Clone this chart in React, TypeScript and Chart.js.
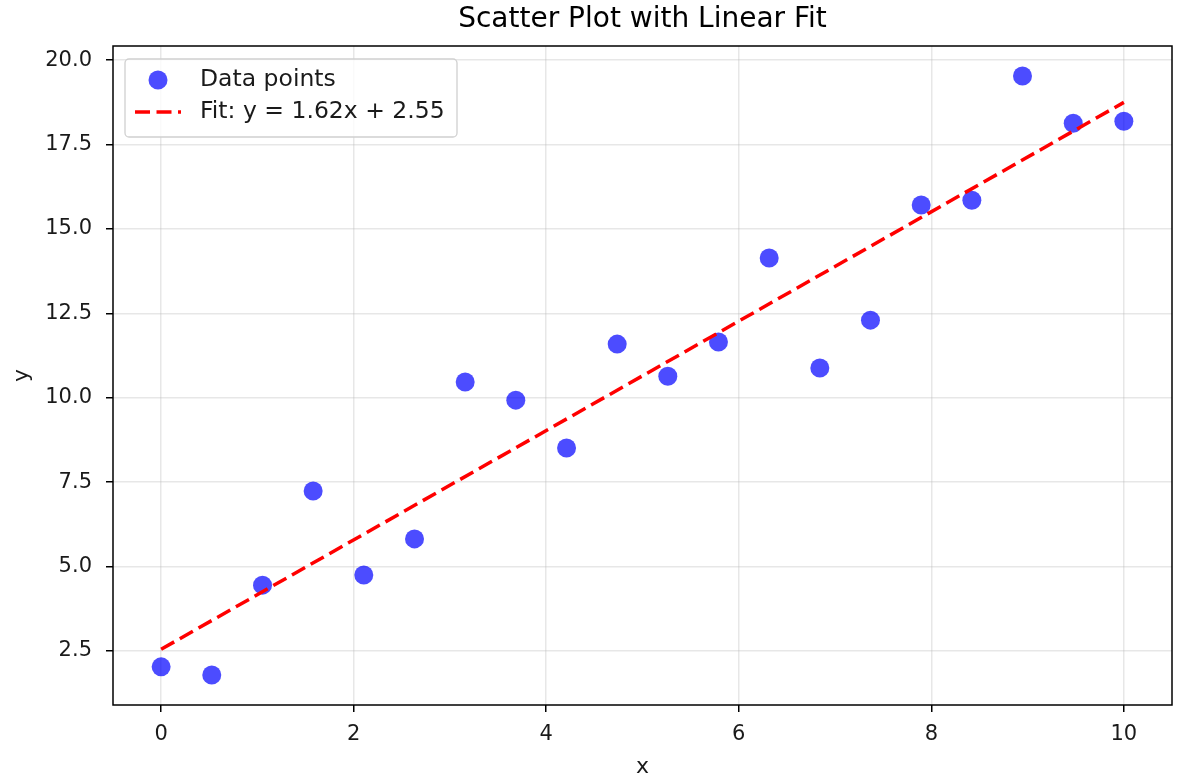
import React, { useEffect, useRef } from "react";
import { Chart, registerables } from "chart.js";

Chart.register(...registerables);

const pointX = [0, 0.526, 1.053, 1.579, 2.105, 2.632, 3.158, 3.684, 4.211, 4.737, 5.263, 5.789, 6.316, 6.842, 7.368, 7.895, 8.421, 8.947, 9.474, 10];
const pointY = [2.03, 1.79, 4.45, 7.24, 4.75, 5.82, 10.47, 9.93, 8.51, 11.59, 10.64, 11.65, 14.14, 10.88, 12.3, 15.71, 15.85, 19.53, 18.13, 18.19];
const fitX = [0, 10];
const fitY = [2.55, 18.75];
const xTicks = [0, 2, 4, 6, 8, 10];
const yTicks = [2.5, 5.0, 7.5, 10.0, 12.5, 15.0, 17.5, 20.0];
const legendLabels = ["Data points", "Fit: y = 1.62x + 2.55"];
const titleText = "Scatter Plot with Linear Fit";

const FONT = "'DejaVu Sans', sans-serif";
const POINT_COLOR = "rgba(0,0,255,0.7)";
const LINE_COLOR = "#ff0000";
const DASH = [15, 6.5];

const framePlugin = {
  id: "frameLegend",
  afterDraw(chart: any) {
    const ctx = chart.ctx as CanvasRenderingContext2D;
    const a = chart.chartArea;
    ctx.save();
    // spines
    ctx.strokeStyle = "#000";
    ctx.lineWidth = 1.5;
    ctx.strokeRect(a.left, a.top, a.right - a.left, a.bottom - a.top);

    // legend
    const lx = a.left + 12;
    const ly = a.top + 13;
    const w = 332;
    const h = 78;
    ctx.beginPath();
    (ctx as any).roundRect(lx, ly, w, h, 4);
    ctx.fillStyle = "rgba(255,255,255,0.8)";
    ctx.fill();
    ctx.strokeStyle = "#d0d0d0";
    ctx.lineWidth = 1.3;
    ctx.stroke();

    // marker
    ctx.beginPath();
    ctx.arc(lx + 33, ly + 21, 9.5, 0, Math.PI * 2);
    ctx.fillStyle = POINT_COLOR;
    ctx.fill();

    // dashed line sample
    ctx.beginPath();
    ctx.setLineDash(DASH);
    ctx.moveTo(lx + 10, ly + 53);
    ctx.lineTo(lx + 56, ly + 53);
    ctx.strokeStyle = LINE_COLOR;
    ctx.lineWidth = 3.5;
    ctx.stroke();
    ctx.setLineDash([]);

    ctx.fillStyle = "#1a1a1a";
    ctx.font = `23.5px ${FONT}`;
    ctx.textBaseline = "middle";
    ctx.textAlign = "left";
    ctx.fillText(legendLabels[0], lx + 75, ly + 21);
    ctx.fillText(legendLabels[1], lx + 75, ly + 53);
    ctx.restore();
  },
};

export default function App() {
  const ref = useRef<HTMLCanvasElement>(null);
  useEffect(() => {
    if (!ref.current) return;
    const chart = new Chart(ref.current, {
      type: "scatter",
      data: {
        datasets: [
          {
            type: "line",
            label: legendLabels[1],
            data: fitX.map((x, i) => ({ x, y: fitY[i] })),
            borderColor: LINE_COLOR,
            borderWidth: 3.5,
            borderDash: DASH,
            pointRadius: 0,
            fill: false,
            order: 0,
          } as any,
          {
            type: "scatter",
            label: legendLabels[0],
            data: pointX.map((x, i) => ({ x, y: pointY[i] })),
            backgroundColor: POINT_COLOR,
            borderWidth: 0,
            pointRadius: 9.5,
            order: 1,
          },
        ],
      },
      options: {
        responsive: false,
        animation: false,
        layout: { autoPadding: false, padding: { left: 0, right: 5, top: 0, bottom: 0 } } as any,
        plugins: {
          legend: { display: false },
          tooltip: { enabled: false },
          title: {
            display: true,
            text: titleText,
            fullSize: false,
            color: "#000",
            font: { family: FONT, size: 28, weight: "normal", lineHeight: 1.2 },
            padding: { top: 3, bottom: 9.4 },
          } as any,
        },
        scales: {
          x: {
            type: "linear",
            min: -0.5,
            max: 10.5,
            afterBuildTicks: (s: any) => {
              s.ticks = xTicks.map((v) => ({ value: v }));
            },
            afterFit: (s: any) => {
              s.height = 73;
              s.paddingLeft = 0;
              s.paddingRight = 0;
            },
            ticks: {
              color: "#1a1a1a",
              font: { family: FONT, size: 21 },
              padding: 10,
              maxRotation: 0,
              callback: (v: any) => String(v),
            },
            grid: {
              color: "rgba(176,176,176,0.3)",
              lineWidth: 1.5,
              tickColor: "#000",
              tickLength: 7,
              tickWidth: 1.5,
            } as any,
            border: { display: false },
            title: {
              display: true,
              text: "x",
              color: "#1a1a1a",
              font: { family: FONT, size: 22, lineHeight: 1.2 },
              padding: { top: 0, bottom: -2 },
            },
          },
          y: {
            type: "linear",
            min: 0.9,
            max: 20.42,
            afterBuildTicks: (s: any) => {
              s.ticks = yTicks.map((v) => ({ value: v }));
            },
            afterFit: (s: any) => {
              s.width = 113;
              s.paddingTop = 0;
              s.paddingBottom = 0;
            },
            ticks: {
              color: "#1a1a1a",
              font: { family: FONT, size: 21 },
              padding: 14,
              callback: (v: any) => Number(v).toFixed(1),
            },
            grid: {
              color: "rgba(176,176,176,0.3)",
              lineWidth: 1.5,
              tickColor: "#000",
              tickLength: 7,
              tickWidth: 1.5,
            } as any,
            border: { display: false },
            title: {
              display: true,
              text: "y",
              color: "#1a1a1a",
              font: { family: FONT, size: 22, lineHeight: 1.2 },
              padding: { top: 9, bottom: 0 },
            },
          },
        },
      },
      plugins: [framePlugin],
    });
    return () => chart.destroy();
  }, []);
  return (
    <canvas
      ref={ref}
      width={1177}
      height={778}
      style={{ position: "fixed", left: 0, top: 0, display: "block" }}
    />
  );
}
